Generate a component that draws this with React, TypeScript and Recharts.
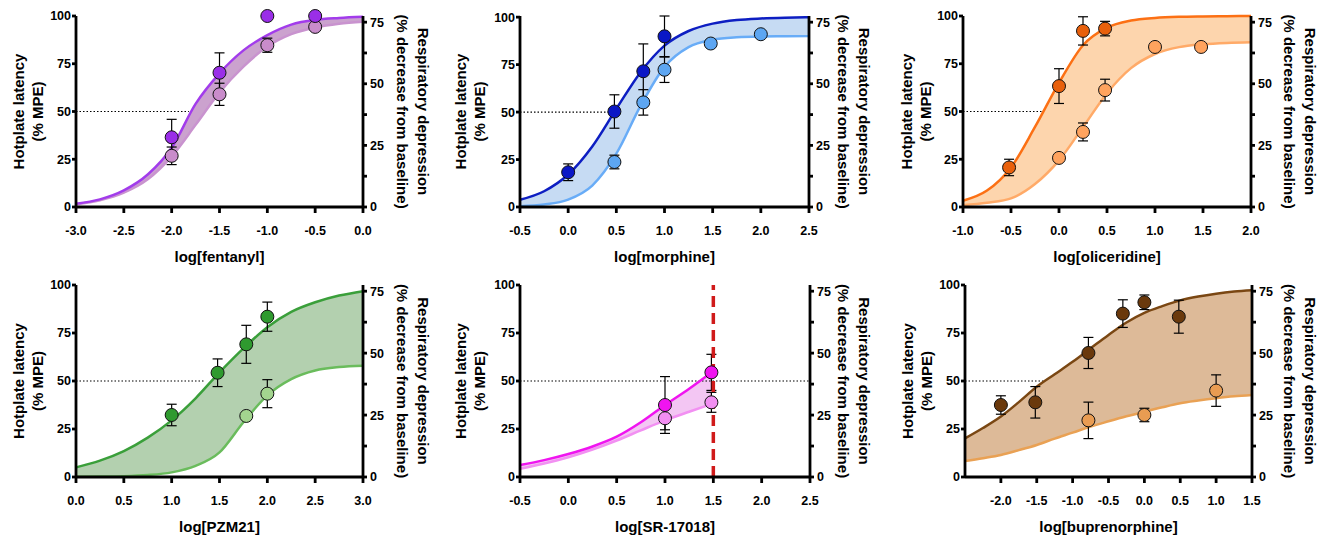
import React from "react";
import { Area, ComposedChart, ErrorBar, Line, ReferenceLine, Scatter, XAxis, YAxis } from "recharts";

const FONT = "'Liberation Sans', Arial, Helvetica, sans-serif";

// fentanyl
const fentHotX = [-2, -1.5, -1, -0.5];
const fentHot = [36.5, 70.3, 100, 100];
const fentHotSem = [9.4, 10.4, 0, 0];
const fentRespX = [-2, -1.5, -1, -0.5];
const fentResp = [26.8, 59.0, 84.7, 94.3];
const fentRespSem = [4.6, 5.8, 3.7, 0];
const fentFitX = [-3, -2.75, -2.5, -2.25, -2, -1.75, -1.5, -1.25, -1, -0.75, -0.5, -0.25, 0];
const fentHotFit = [1.7, 4, 8.7, 17, 31, 54, 70, 82, 90, 95.5, 98, 99, 99.6];
const fentRespFit = [1.3, 3.5, 7.5, 14.5, 26.5, 43, 60, 73.5, 84, 90.5, 94, 96, 97];

// morphine
const morHotX = [0, 0.48, 0.78, 1.0];
const morHot = [18.3, 50.3, 71.5, 89.9];
const morHotSem = [4.4, 8.8, 14.4, 10.7];
const morRespX = [0.48, 0.78, 1.0, 1.48, 2.0];
const morResp = [23.7, 55.1, 72.3, 86.1, 91.0];
const morRespSem = [3.6, 6.7, 6.7, 0, 0];
const morFitX = [-0.5, -0.25, 0, 0.25, 0.5, 0.75, 1, 1.25, 1.5, 1.75, 2, 2.25, 2.5];
const morHotFit = [3.8, 8.3, 17.1, 31.9, 51.7, 70.9, 85, 92.7, 96.6, 98.5, 99.3, 99.7, 99.9];
const morRespFit = [0.4, 1.3, 3.9, 11.3, 28.1, 53.1, 73.8, 84.2, 88.1, 89.4, 89.8, 89.9, 90];

// oliceridine
const oliHotX = [-0.52, 0, 0.25, 0.48];
const oliHot = [20.7, 63.3, 92.2, 93.4];
const oliHotSem = [4.3, 9.1, 7.4, 3.8];
const oliRespX = [0, 0.25, 0.48, 1.0, 1.48];
const oliResp = [25.7, 39.3, 61.2, 83.8, 83.8];
const oliRespSem = [0, 4.7, 5.7, 0, 0];
const oliFitX = [-1, -0.75, -0.5, -0.25, 0, 0.25, 0.5, 0.75, 1, 1.25, 1.5, 1.75, 2];
const oliHotFit = [3.3, 8.6, 20.7, 41.9, 65, 84.7, 93.9, 97.6, 99, 99.6, 99.8, 99.9, 100];
const oliRespFit = [0.9, 2.2, 4.5, 12, 24.4, 41.8, 59.6, 72.7, 80.1, 83.7, 85.2, 85.9, 86.2];

// PZM21
const pzmHotX = [1.0, 1.48, 1.78, 2.0];
const pzmHot = [32.3, 54.3, 69.1, 83.5];
const pzmHotSem = [5.6, 7.2, 9.9, 7.6];
const pzmRespX = [1.78, 2.0];
const pzmResp = [31.8, 43.4];
const pzmRespSem = [0, 7.3];
const pzmFitX = [0, 0.25, 0.5, 0.75, 1, 1.25, 1.5, 1.75, 2, 2.25, 2.5, 2.75, 3];
const pzmHotFit = [5, 8.5, 13.5, 20.5, 29.5, 41, 54.5, 67, 78, 86, 91, 94.5, 96.8];
const pzmRespFit = [0.1, 0.2, 0.4, 1.0, 2.4, 5.8, 12.8, 28.5, 42.5, 51, 55.5, 57.3, 58];

// SR-17018
const srHotX = [1.0, 1.48];
const srHot = [37.5, 54.5];
const srHotSem = [14.8, 9.4];
const srRespX = [1.0, 1.48];
const srResp = [30.6, 38.9];
const srRespSem = [6, 5.2];
const srFitX = [-0.5, -0.25, 0, 0.25, 0.5, 0.75, 1.0, 1.25, 1.48];
const srHotFit = [6.2, 8.8, 12.0, 15.9, 21, 28.5, 37.5, 46, 54.5];
const srRespFit = [4.3, 7.0, 10.3, 14.3, 19, 24.3, 29.5, 34, 38];

// buprenorphine
const bupHotX = [-2.0, -1.52, -0.78, -0.3, 0, 0.48];
const bupHot = [37.5, 38.9, 64.6, 85.1, 91.0, 83.5];
const bupHotSem = [4.8, 8.2, 8.1, 7.2, 3.8, 8.6];
const bupRespX = [-0.78, 0, 1.0];
const bupResp = [29.5, 32.3, 45.0];
const bupRespSem = [9.5, 3.5, 8.2];
const bupFitX = [-2.5, -2.25, -2, -1.75, -1.5, -1.25, -1, -0.75, -0.5, -0.25, 0, 0.25, 0.5, 0.75, 1, 1.25, 1.5];
const bupHotFit = [20.1, 25.5, 31.5, 39, 47, 53.5, 60, 67, 74, 80.5, 85.5, 89, 92, 94, 95.5, 96.6, 97.3];
const bupRespFit = [8.3, 9.8, 11.5, 14, 16.7, 20, 23.1, 26.3, 29, 31.6, 34, 36.3, 38.4, 39.8, 41, 42, 42.7];

// x where the hotplate fit crosses 50 % (end of dotted guide)
const halfX = [-1.82, 0.48, -0.17, 1.35, 2.5, -1.41];

const leftTicks = [0, 25, 50, 75, 100];
const rightTicks = [0, 12.5, 25, 37.5, 50, 62.5, 75];

const pts = (xs: number[], ys: number[], es: number[]) => xs.map((x, i) => ({ x, y: ys[i], e: es[i] }));
const fit = (xs: number[], top: number[], bot: number[]) =>
  xs.map((x, i) => ({ x, top: top[i], bot: bot[i], band: [bot[i], top[i]] }));
const range = (a: number, b: number) => {
  const out: number[] = [];
  for (let v = a; v <= b + 1e-9; v += 0.5) out.push(Math.round(v * 10) / 10);
  return out;
};

const panels = [
  { name: "log[fentanyl]", left: 0, top: 0, pl: 76, pr: 363, pt: 16, pb: 207, domain: [-3, 0], ticks: range(-3, 0),
    hot: pts(fentHotX, fentHot, fentHotSem), resp: pts(fentRespX, fentResp, fentRespSem), fit: fit(fentFitX, fentHotFit, fentRespFit),
    dark: "#9A2EE8", darkLine: "#A23CEB", light: "#C98CCB", lightLine: "#C993CF", band: "#CBA2CE", tl: 18, tr: 423 },
  { name: "log[morphine]", left: 440, top: 0, pl: 80, pr: 369, pt: 16, pb: 207, domain: [-0.5, 2.5], ticks: range(-0.5, 2.5),
    hot: pts(morHotX, morHot, morHotSem), resp: pts(morRespX, morResp, morRespSem), fit: fit(morFitX, morHotFit, morRespFit),
    dark: "#0A17C6", darkLine: "#0D1EC2", light: "#5DA6F2", lightLine: "#68ACF7", band: "#C6DBF3", tl: 20, tr: 424 },
  { name: "log[oliceridine]", left: 880, top: 0, pl: 83, pr: 371, pt: 16, pb: 207, domain: [-1, 2], ticks: range(-1, 2),
    hot: pts(oliHotX, oliHot, oliHotSem), resp: pts(oliRespX, oliResp, oliRespSem), fit: fit(oliFitX, oliHotFit, oliRespFit),
    dark: "#E8600C", darkLine: "#FC7014", light: "#FFA35E", lightLine: "#FFAA68", band: "#FDD5AD", tl: 26, tr: 430 },
  { name: "log[PZM21]", left: 0, top: 268, pl: 76, pr: 363, pt: 17, pb: 209, domain: [0, 3], ticks: range(0, 3),
    hot: pts(pzmHotX, pzmHot, pzmHotSem), resp: pts(pzmRespX, pzmResp, pzmRespSem), fit: fit(pzmFitX, pzmHotFit, pzmRespFit),
    dark: "#2F9A2F", darkLine: "#3A9F3A", light: "#A3D58F", lightLine: "#6ABC5C", band: "#B3D0AF", tl: 18, tr: 423 },
  { name: "log[SR-17018]", left: 440, top: 268, pl: 80, pr: 370, pt: 17, pb: 209, domain: [-0.5, 2.5], ticks: range(-0.5, 2.5),
    hot: pts(srHotX, srHot, srHotSem), resp: pts(srRespX, srResp, srRespSem), fit: fit(srFitX, srHotFit, srRespFit),
    dark: "#F014F0", darkLine: "#F014F0", light: "#F28EF2", lightLine: "#F290F2", band: "#F3C6F3", tl: 20, tr: 424, redAt: 1.5 },
  { name: "log[buprenorphine]", left: 880, top: 268, pl: 85, pr: 372, pt: 17, pb: 209, domain: [-2.5, 1.5], ticks: range(-2, 1.5),
    hot: pts(bupHotX, bupHot, bupHotSem), resp: pts(bupRespX, bupResp, bupRespSem), fit: fit(bupFitX, bupHotFit, bupRespFit),
    dark: "#6A390C", darkLine: "#7A4713", light: "#E99C52", lightLine: "#E9A154", band: "#DDBA98", tl: 27, tr: 430 },
];

const W = 440;
const H = 268;
const axisStyle = { stroke: "#000", strokeWidth: 2.8 };
const tickStyle = { fill: "#000", fontSize: 12.5, fontWeight: 700, fontFamily: FONT };
const titleStyle = { fill: "#000", fontSize: 15, fontWeight: 700, fontFamily: FONT };

const circle = (fill: string) => (p: any) => (
  <circle cx={p.cx} cy={p.cy} r={6.5} fill={fill} stroke="#111" strokeWidth={1} />
);

function Panel({ p, idx }: { p: (typeof panels)[number]; idx: number }) {
  const midY = (p.pt + p.pb) / 2;
  const midX = (p.pl + p.pr) / 2;
  const guide = [
    { x: p.domain[0], y: 50 },
    { x: halfX[idx], y: 50 },
  ];
  return (
    <div style={{ position: "absolute", left: p.left, top: p.top, width: W, height: H }}>
      <ComposedChart width={W} height={H} margin={{ top: p.pt, right: 0, bottom: 0, left: 0 }}>
        <XAxis
          type="number"
          dataKey="x"
          domain={p.domain}
          ticks={p.ticks}
          interval={0}
          tickFormatter={(v: number) => v.toFixed(1)}
          height={H - p.pb}
          tickSize={6}
          tickMargin={13}
          axisLine={axisStyle}
          tickLine={axisStyle}
          tick={tickStyle}
          label={() => (
            <text x={midX} y={p.pb + 49} textAnchor="middle" dominantBaseline="central" {...titleStyle}>
              {p.name}
            </text>
          )}
        />
        <YAxis
          yAxisId="l"
          type="number"
          domain={[0, 100]}
          ticks={leftTicks}
          interval={0}
          width={p.pl}
          tickSize={4}
          tickMargin={1}
          axisLine={axisStyle}
          tickLine={axisStyle}
          tick={tickStyle}
          label={() => (
            <g>
              <text x={p.tl} y={midY} textAnchor="middle" dominantBaseline="central" transform={`rotate(-90 ${p.tl} ${midY})`} {...titleStyle}>
                Hotplate latency
              </text>
              <text x={p.tl + 19} y={midY} textAnchor="middle" dominantBaseline="central" transform={`rotate(-90 ${p.tl + 19} ${midY})`} {...titleStyle}>
                (% MPE)
              </text>
            </g>
          )}
        />
        <YAxis
          yAxisId="r"
          orientation="right"
          type="number"
          domain={[0, 77.5]}
          allowDataOverflow
          ticks={rightTicks}
          interval={0}
          tickFormatter={(v: number) => (v % 25 === 0 ? String(v) : "")}
          width={W - p.pr}
          tickSize={4}
          tickMargin={3}
          axisLine={axisStyle}
          tickLine={axisStyle}
          tick={tickStyle}
          label={() => (
            <g>
              <text x={p.tr} y={midY} textAnchor="middle" dominantBaseline="central" transform={`rotate(90 ${p.tr} ${midY})`} {...titleStyle}>
                Respiratory depression
              </text>
              <text x={p.tr - 21} y={midY} textAnchor="middle" dominantBaseline="central" transform={`rotate(90 ${p.tr - 21} ${midY})`} {...titleStyle}>
                (% decrease from baseline)
              </text>
            </g>
          )}
        />
        <Area yAxisId="l" data={p.fit} dataKey="band" type="monotone" stroke="none" fill={p.band} fillOpacity={1} isAnimationActive={false} />
        <Line yAxisId="l" data={guide} dataKey="y" stroke="#000" strokeWidth={1.2} strokeDasharray="1.5 2" dot={false} isAnimationActive={false} />
        <Line yAxisId="l" data={p.fit} dataKey="bot" type="monotone" stroke={p.lightLine} strokeWidth={2.5} dot={false} isAnimationActive={false} />
        <Line yAxisId="l" data={p.fit} dataKey="top" type="monotone" stroke={p.darkLine} strokeWidth={2.5} dot={false} isAnimationActive={false} />
        <Scatter yAxisId="l" data={p.resp} dataKey="y" shape={circle(p.light)} isAnimationActive={false}>
          <ErrorBar dataKey="e" direction="y" width={5} stroke="#000" strokeWidth={1.2} />
        </Scatter>
        <Scatter yAxisId="l" data={p.hot} dataKey="y" shape={circle(p.dark)} isAnimationActive={false}>
          <ErrorBar dataKey="e" direction="y" width={5} stroke="#000" strokeWidth={1.2} />
        </Scatter>
        {p.redAt !== undefined && (
          <ReferenceLine yAxisId="l" x={p.redAt} stroke="#D01A1A" strokeWidth={3.5} strokeDasharray="11 6" />
        )}
      </ComposedChart>
    </div>
  );
}

export default function App() {
  return (
    <div style={{ position: "absolute", left: 0, top: 0, width: 1320, height: 536, background: "#fff" }}>
      {panels.map((p, i) => (
        <Panel key={p.name} p={p} idx={i} />
      ))}
    </div>
  );
}
